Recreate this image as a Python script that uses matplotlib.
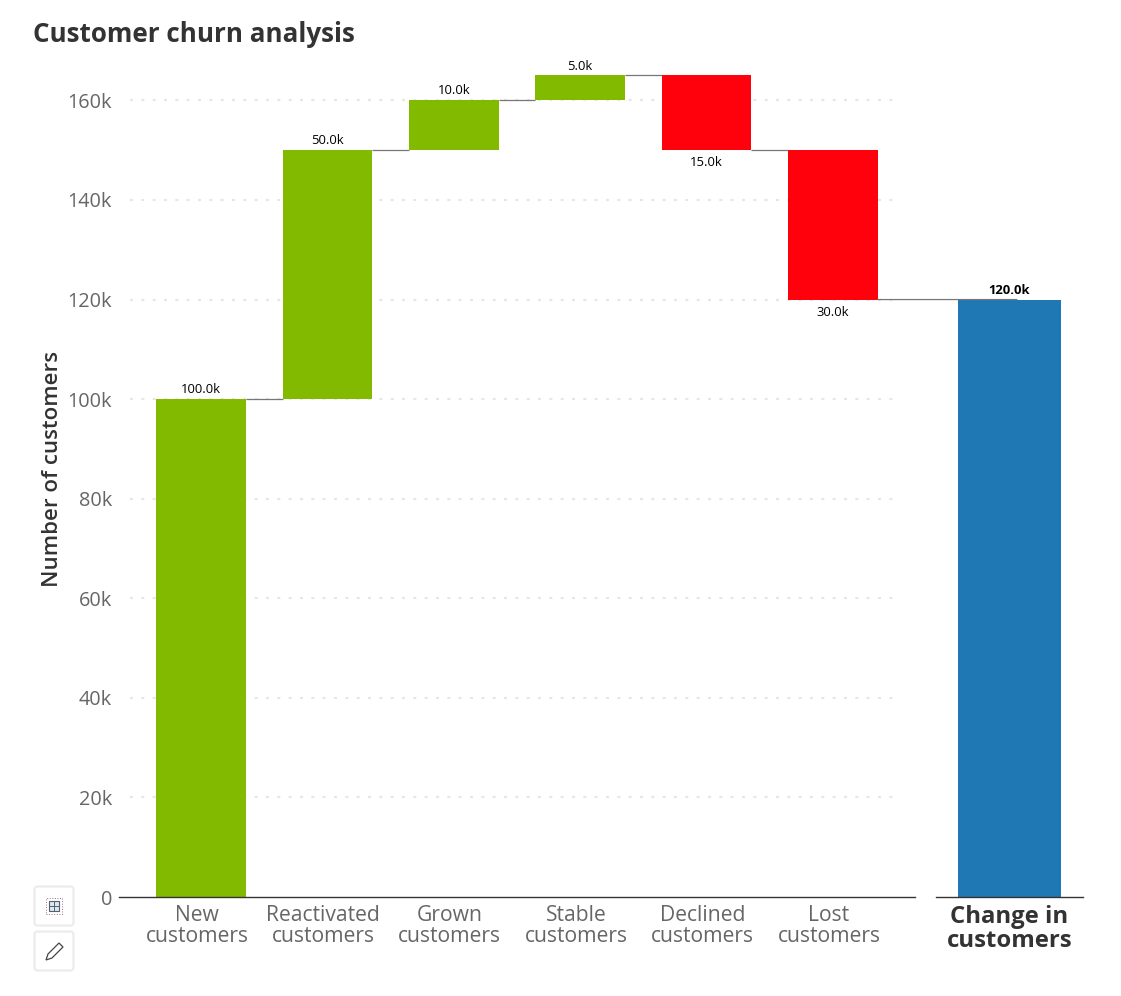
"""Customer churn waterfall, two panels: the steps and the resulting change."""

import matplotlib
matplotlib.use("Agg")
import matplotlib.pyplot as plt
from matplotlib.patches import ConnectionPatch, FancyBboxPatch, Polygon, Rectangle
from matplotlib.lines import Line2D
from matplotlib.transforms import ScaledTranslation
import numpy as np

W, H = 1121, 996

categories = ["New\ncustomers", "Reactivated\ncustomers", "Grown\ncustomers",
              "Stable\ncustomers", "Declined\ncustomers", "Lost\ncustomers"]
changes = [100000, 50000, 10000, 5000, -15000, -30000]
total_label = "Change in\ncustomers"
total_value = 120000
y_ticks = [0, 20000, 40000, 60000, 80000, 100000, 120000, 140000, 160000]

GREEN, RED, BLUE = "#82ba00", "#ff000d", "#1f77b4"
TICK_GREY = "#666666"
DARK = "#333333"
FONT = "Open Sans"

plt.rcParams["font.family"] = [FONT, "DejaVu Sans"]


def axes_px(fig, left, top, right, bottom):
    return fig.add_axes([left / W, 1 - bottom / H, (right - left) / W, (bottom - top) / H])


def fmt_k(v):
    return f"{abs(v) / 1000:.1f}k"


def add_icons(fig):
    # the two little toolbar buttons bottom left
    for top in (886, 931):
        fig.add_artist(FancyBboxPatch((34.5, H - top - 39.5), 39, 39, boxstyle="round,pad=0,rounding_size=3",
                                      transform=None, fc="white", ec="#ececec", lw=1.6))
    # grid icon
    fig.add_artist(Rectangle((46, H - 914), 16, 16, transform=None, fc="none", ec="#a06a8c", lw=0.7, ls=":"))
    fig.add_artist(Rectangle((49, H - 911), 10, 10, transform=None, fc="#dbe8f2", ec="#55606a", lw=0.8))
    fig.add_artist(Line2D([54, 54], [H - 911, H - 901], transform=None, color="#55606a", lw=0.7))
    fig.add_artist(Line2D([49, 59], [H - 906, H - 906], transform=None, color="#55606a", lw=0.7))
    # pencil icon
    pts = [(46, H - 960), (48, H - 954), (59, H - 943), (63, H - 947), (52, H - 958)]
    fig.add_artist(Polygon(pts, closed=True, transform=None, fc="white", ec="#444444", lw=0.9))


def main():
    fig = plt.figure(figsize=(W / 100, H / 100), dpi=100)
    ax = axes_px(fig, 119, 75.5, 915, 897)
    ax2 = axes_px(fig, 936, 75.5, 1083, 897)

    x = np.arange(len(categories))
    values = np.array(changes)
    ends = np.cumsum(values)
    starts = ends - values
    bar_w = 0.71
    colors = [GREEN if v > 0 else RED for v in values]

    ax.set_xlim(-0.649, 5.649)
    ax2.set_xlim(-0.5, 0.5)
    for a in (ax, ax2):
        a.set_ylim(0, 165000)
        for side in ("top", "left", "right"):
            a.spines[side].set_visible(False)
        a.spines["bottom"].set_color(DARK)
        a.spines["bottom"].set_linewidth(1.0)
        a.tick_params(length=0)

    ax.hlines(y_ticks[1:], 0.0138, 0.972, transform=ax.get_yaxis_transform(), color="#e6e6e6",
              lw=1.5, linestyles=(0, (1.44, 4.0)), zorder=0)

    ax.bar(x, values, bottom=starts, width=bar_w, color=colors, zorder=2, clip_on=False)
    ax2.bar([0], [total_value], width=0.7, color=BLUE, zorder=2, clip_on=False)

    # connectors between steps
    for i in x[:-1]:
        ax.plot([i + bar_w / 2, i + 1 - bar_w / 2], [ends[i], ends[i]], color="#777777", lw=0.9,
                zorder=1, clip_on=False, solid_capstyle="butt")
    con = ConnectionPatch((x[-1] + bar_w / 2, ends[-1]), (0.05, total_value), "data", "data",
                          axesA=ax, axesB=ax2, color="#777777", lw=0.9, zorder=5)
    fig.add_artist(con)

    # value labels
    for i, v in enumerate(values):
        if v > 0:
            ax.annotate(fmt_k(v), (i, ends[i]), xytext=(0, 3), textcoords="offset pixels",
                        ha="center", va="bottom", fontsize=9.4, color="black")
        else:
            ax.annotate(fmt_k(v), (i, ends[i]), xytext=(0, -6), textcoords="offset pixels",
                        ha="center", va="top", fontsize=9.4, color="black")
    ax2.annotate(fmt_k(total_value), (0, total_value), xytext=(0, 3), textcoords="offset pixels",
                 ha="center", va="bottom", fontsize=9.4, fontweight="bold", color="black")

    ax.set_xticks(x)
    ax.set_xticklabels(categories, fontsize=15.2, color=TICK_GREY, linespacing=1.0)
    ax.tick_params(axis="x", pad=6)
    # labels sit a few pixels left of the bar centres in the original
    shift = ScaledTranslation(-4 / 100, 0, fig.dpi_scale_trans)
    for lab in ax.get_xticklabels():
        lab.set_transform(lab.get_transform() + shift)
    ax.set_yticks(y_ticks)
    ax.set_yticklabels([f"{t // 1000}k" if t else "0" for t in y_ticks], fontsize=14.3, color=TICK_GREY)
    ax.tick_params(axis="y", pad=5)

    ax2.set_yticks([])
    ax2.set_xticks([0])
    ax2.set_xticklabels([total_label], fontsize=17.2, fontweight="bold", color=DARK, linespacing=1.0)
    ax2.tick_params(axis="x", pad=6)

    fig.text(53 / W, 1 - 469 / H, "Number of customers", rotation=90, ha="center", va="center",
             fontsize=16, fontweight="semibold", color=DARK)
    fig.text(33 / W, 1 - 34 / H, "Customer churn analysis", ha="left", va="center",
             fontsize=18.7, fontweight="bold", color=DARK)

    add_icons(fig)
    fig.savefig("out.png", dpi=100)


if __name__ == "__main__":
    main()
